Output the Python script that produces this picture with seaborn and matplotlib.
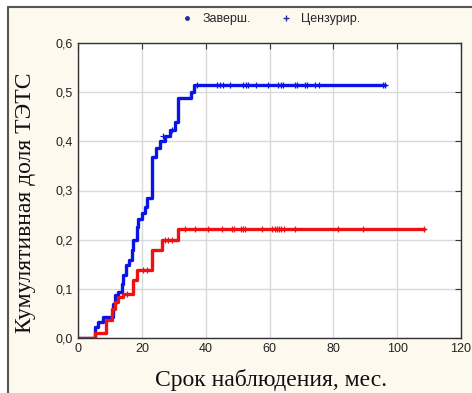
import pandas as pd
import matplotlib.pyplot as plt
import seaborn as sns
from matplotlib.lines import Line2D
from matplotlib.patches import Rectangle

# кривые кумулятивной доли (ступеньки)
t_done = [0, 5.3, 6.3, 7.9, 11, 11.6, 12.5, 13.8, 14.1, 15, 16, 16.9, 17.2, 18.4, 18.8,
          20, 21, 21.6, 23.2, 24.5, 25.7, 27.3, 28.8, 30.4, 31.3, 35.5, 36.2, 96.2]
v_done = [0, 0.022, 0.033, 0.043, 0.07, 0.087, 0.094, 0.11, 0.128, 0.148, 0.158, 0.18, 0.2,
          0.225, 0.243, 0.254, 0.267, 0.285, 0.368, 0.386, 0.4, 0.41, 0.423, 0.44, 0.488,
          0.5, 0.515, 0.515]
t_red = [0, 5.3, 8.8, 10.6, 11.6, 12.5, 14, 17.2, 18.4, 23.2, 26.3, 31.3, 108.3]
v_red = [0, 0.01, 0.037, 0.06, 0.073, 0.083, 0.09, 0.118, 0.138, 0.178, 0.2, 0.222, 0.222]

# цензурированные наблюдения
c_done_t = [26.5, 29.5, 37.3, 43.6, 44.5, 45.5, 47.6, 51.7, 52.7, 53.3, 55.8, 59.6, 62.7,
            63.6, 64.3, 68, 68.7, 71.2, 71.8, 74.3, 75.5, 95.6, 96.2]
c_done_v = [0.41, 0.423] + [0.515] * 21
c_red_t = [15.5, 20.5, 21.5, 27.3, 28.2, 29.5, 33.5, 36.7, 40.8, 45, 48.3, 48.9, 51.1, 51.7,
           52.4, 57.6, 60.8, 61.8, 62.4, 63, 63.7, 64.4, 68, 81.5, 89.3, 108.3]
c_red_v = [0.09, 0.138, 0.138, 0.2, 0.2, 0.2] + [0.222] * 20

y_ticks = [0, 0.1, 0.2, 0.3, 0.4, 0.5, 0.6]
y_labels = ['0,0', '0,1', '0,2', '0,3', '0,4', '0,5', '0,6']
x_ticks = [0, 20, 40, 60, 80, 100, 120]

blue = '#0a14e6'
red = '#ee1111'

sns.set_style('white')
plt.rcParams['font.family'] = ['Liberation Sans', 'DejaVu Sans']

fig = plt.figure(figsize=(4.72, 3.93), dpi=100)
fig.patch.set_facecolor('white')
fig.patches.append(Rectangle((8 / 472, 0), 1 - 8 / 472, 1 - 7 / 393, transform=fig.transFigure,
                             facecolor='#fdf9ee', edgecolor='none', zorder=-2))
fig.add_artist(Line2D([8 / 472, 1], [1 - 7 / 393] * 2, color='#555555', lw=1.5))
fig.add_artist(Line2D([8 / 472] * 2, [0, 1 - 7 / 393], color='#555555', lw=1.5))

ax = fig.add_axes([78 / 472, 1 - 338 / 393, (461 - 78) / 472, (338 - 43) / 393])
ax.set_facecolor('white')

d1 = pd.DataFrame({'t': t_done, 'v': v_done})
d2 = pd.DataFrame({'t': t_red, 'v': v_red})
sns.lineplot(data=d1, x='t', y='v', ax=ax, color=blue, lw=2.4, drawstyle='steps-post',
             estimator=None, sort=False)
sns.lineplot(data=d2, x='t', y='v', ax=ax, color=red, lw=2.4, drawstyle='steps-post',
             estimator=None, sort=False)
sns.scatterplot(x=c_done_t, y=c_done_v, ax=ax, color=blue, marker='+', s=22, linewidth=0.9)
sns.scatterplot(x=c_red_t, y=c_red_v, ax=ax, color=red, marker='+', s=22, linewidth=0.9)

ax.set_xlim(0, 120)
ax.set_ylim(0, 0.6)
ax.set_xticks(x_ticks)
ax.set_yticks(y_ticks)
ax.set_yticklabels(y_labels)
ax.grid(True, color='#d9d9d9', lw=1)
ax.set_axisbelow(True)
ax.tick_params(direction='in', length=4, top=True, right=True, labelsize=9,
               colors='#333333', labelcolor='#222222')
for s in ax.spines.values():
    s.set_color('#333333')
    s.set_linewidth(1)

ax.set_xlabel('Срок наблюдения, мес.', family='Liberation Serif', fontsize=17,
              color='#111111', va='center')
ax.set_ylabel('Кумулятивная доля ТЭТС', family='Liberation Serif', fontsize=17,
              color='#111111', va='center')
ax.xaxis.set_label_coords(0.505, -0.142)
ax.yaxis.set_label_coords(-0.138, 0.46)

handles = [Line2D([], [], marker='.', ls='none', color='#2a2aa0', markersize=5),
           Line2D([], [], marker='+', ls='none', color='#2a2aa0', markersize=5)]
fig.legend(handles, ['Заверш.', 'Цензурир.'], loc='center', bbox_to_anchor=(0.572, 1 - 19 / 393),
           ncol=2, frameon=False, fontsize=9, handletextpad=0.6, columnspacing=2.2,
           handlelength=1.2)

fig.savefig('out.png', dpi=100, facecolor=fig.get_facecolor())
